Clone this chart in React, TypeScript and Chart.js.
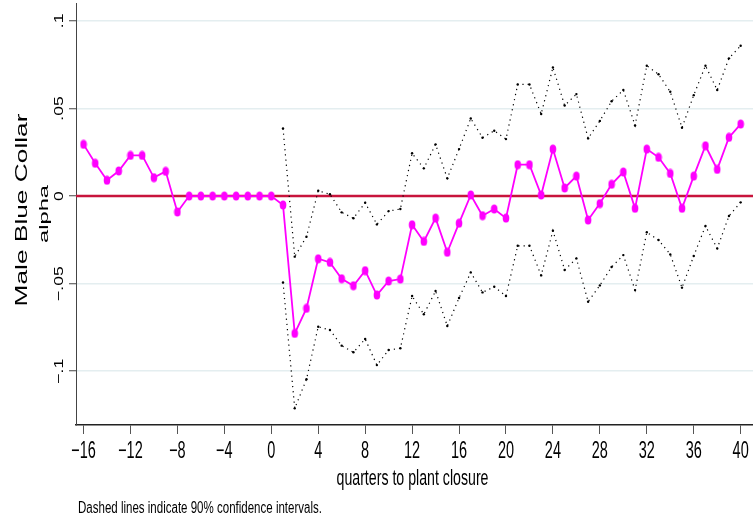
import React, { useEffect, useRef } from "react";
import { Chart, registerables } from "chart.js";

Chart.register(...registerables);

// ---- data ----
const quarters = [
  -16, -15, -14, -13, -12, -11, -10, -9, -8, -7, -6, -5, -4, -3, -2, -1, 0,
  1, 2, 3, 4, 5, 6, 7, 8, 9, 10, 11, 12, 13, 14, 15, 16, 17, 18, 19, 20,
  21, 22, 23, 24, 25, 26, 27, 28, 29, 30, 31, 32, 33, 34, 35, 36, 37, 38, 39, 40,
];
const alpha = [
  0.0295, 0.0187, 0.009, 0.0143, 0.0232, 0.0232, 0.0105, 0.0141, -0.0091,
  0, 0, 0, 0, 0, 0, 0, 0,
  -0.0051, -0.0784, -0.0641, -0.0358, -0.0379, -0.0472, -0.0512, -0.0426, -0.0565, -0.0485,
  -0.0474, -0.0164, -0.0259, -0.0126, -0.0321, -0.0155, 0.0006, -0.0112, -0.0074, -0.0126,
  0.0179, 0.0179, 0.0006, 0.0268, 0.0046, 0.0114, -0.0137, -0.0043, 0.0067, 0.0137,
  -0.007, 0.0268, 0.0221, 0.0129, -0.007, 0.0114, 0.0287, 0.0152, 0.0335, 0.0411,
];
const ciQuarters = [
  1, 2, 3, 4, 5, 6, 7, 8, 9, 10, 11, 12, 13, 14, 15, 16, 17, 18, 19, 20,
  21, 22, 23, 24, 25, 26, 27, 28, 29, 30, 31, 32, 33, 34, 35, 36, 37, 38, 39, 40,
];
const upperCI = [
  0.0386, -0.0346, -0.0232, 0.003, 0.001, -0.0093, -0.0127, -0.0038, -0.0162, -0.0086,
  -0.0074, 0.0244, 0.0158, 0.0295, 0.0101, 0.0268, 0.0443, 0.0333, 0.0373, 0.0325,
  0.0637, 0.0637, 0.0468, 0.0734, 0.0517, 0.0582, 0.0329, 0.0429, 0.0541, 0.0605,
  0.0403, 0.0744, 0.0695, 0.0595, 0.039, 0.0576, 0.0744, 0.0605, 0.0786, 0.0858,
];
const lowerCI = [
  -0.0493, -0.1212, -0.1046, -0.0746, -0.0765, -0.0854, -0.0892, -0.0816, -0.0965, -0.0879,
  -0.0869, -0.0571, -0.0675, -0.0542, -0.0742, -0.0582, -0.0436, -0.055, -0.0518, -0.0571,
  -0.0284, -0.0284, -0.0453, -0.0198, -0.0422, -0.0356, -0.0603, -0.051, -0.0405, -0.0337,
  -0.0537, -0.0207, -0.0251, -0.0333, -0.0523, -0.0342, -0.0171, -0.0299, -0.0114, -0.0036,
];
const zeroLineY = [0, 0];

const xTickValues = [-16, -12, -8, -4, 0, 4, 8, 12, 16, 20, 24, 28, 32, 36, 40];
const xTickLabels = ["\u221216", "\u221212", "\u22128", "\u22124", "0", "4", "8", "12", "16", "20", "24", "28", "32", "36", "40"];
const yTickValues = [0.1, 0.05, 0, -0.05, -0.1];
const yTickLabels = [".1", ".05", "0", "\u2212.05", "\u2212.1"];

const X_MIN = -16.64;
const X_MAX = 41.05;
const Y_MIN = -0.1307;
const Y_MAX = 0.1102;

const yTitle1 = "Male Blue Collar";
const yTitle2 = "alpha";
const xTitle = "quarters to plant closure";
const footnote = "Dashed lines indicate 90% confidence intervals.";

const FONT = '"Liberation Sans", Arial, sans-serif';

function drawText(
  ctx: CanvasRenderingContext2D,
  text: string,
  x: number,
  y: number,
  fontPx: number,
  opts: { rot?: boolean; sx?: number; width?: number; align?: CanvasTextAlign }
) {
  ctx.save();
  ctx.translate(x, y);
  if (opts.rot) ctx.rotate(-Math.PI / 2);
  ctx.font = `${fontPx}px ${FONT}`;
  const w = ctx.measureText(text).width;
  const s = opts.width ? opts.width / w : opts.sx ?? 1;
  ctx.scale(s, 1);
  ctx.textAlign = opts.align ?? "center";
  ctx.textBaseline = "alphabetic";
  ctx.fillStyle = "#000";
  ctx.fillText(text, 0, 0);
  ctx.restore();
}

const textPlugin = {
  id: "stataText",
  afterDraw(chart: any) {
    const ctx: CanvasRenderingContext2D = chart.ctx;
    const xs = chart.scales.x;
    const ys = chart.scales.y;
    const area = chart.chartArea;
    // y tick labels (rotated)
    yTickValues.forEach((v, i) => {
      const py = ys.getPixelForValue(v);
      drawText(ctx, yTickLabels[i], 63, py, 13, { rot: true, sx: 1.35 });
    });
    // y titles
    const cy = (area.top + area.bottom) / 2;
    drawText(ctx, yTitle1, 26.7, cy - 4, 16.5, { rot: true, width: 193 });
    drawText(ctx, yTitle2, 47.5, cy, 13, { rot: true, width: 58 });
    // x tick labels
    xTickValues.forEach((v, i) => {
      const px = xs.getPixelForValue(v);
      drawText(ctx, xTickLabels[i], px, 458, 23, { sx: 0.63 });
    });
    // x title
    drawText(ctx, xTitle, (area.left + area.right) / 2 - 2, 485, 22, { width: 152 });
    // footnote
    drawText(ctx, footnote, 78, 513, 16, { width: 244, align: "left" });
  },
};

function makeEllipse(): HTMLCanvasElement {
  const c = document.createElement("canvas");
  c.width = 8;
  c.height = 10;
  const g = c.getContext("2d")!;
  g.fillStyle = "#ff00ff";
  g.beginPath();
  g.ellipse(4, 5, 3.3, 4.6, 0, 0, Math.PI * 2);
  g.fill();
  return c;
}

export default function App() {
  const ref = useRef<HTMLCanvasElement | null>(null);
  useEffect(() => {
    if (!ref.current) return;
    const marker = makeEllipse();
    const chart = new Chart(ref.current, {
      type: "line",
      data: {
        datasets: [
          {
            label: "alpha",
            data: quarters.map((q, i) => ({ x: q, y: alpha[i] })),
            borderColor: "#ff00ff",
            backgroundColor: "#ff00ff",
            borderWidth: 1.8,
            pointStyle: marker as any,
            pointRadius: 4,
            tension: 0,
            order: 0,
          },
          {
            label: "upper",
            data: ciQuarters.map((q, i) => ({ x: q, y: upperCI[i] })),
            borderColor: "#000",
            backgroundColor: "#000",
            borderWidth: 1.2,
            borderDash: [1.2, 4],
            pointRadius: 1.2,
            pointBorderWidth: 0,
            tension: 0,
            order: 1,
          },
          {
            label: "lower",
            data: ciQuarters.map((q, i) => ({ x: q, y: lowerCI[i] })),
            borderColor: "#000",
            backgroundColor: "#000",
            borderWidth: 1.2,
            borderDash: [1.2, 4],
            pointRadius: 1.2,
            pointBorderWidth: 0,
            tension: 0,
            order: 1,
          },
          {
            label: "zero",
            data: [
              { x: X_MIN, y: zeroLineY[0] },
              { x: X_MAX, y: zeroLineY[1] },
            ],
            borderColor: "#c8143c",
            borderWidth: 2.5,
            pointRadius: 0,
            order: 3,
          },
        ],
      },
      options: {
        animation: false,
        responsive: false,
        maintainAspectRatio: false,
        layout: { autoPadding: false, padding: { top: 3, right: 0, left: 0, bottom: 0 } },
        plugins: {
          legend: { display: false },
          tooltip: { enabled: false },
          title: { display: false },
        },
        scales: {
          x: {
            type: "linear",
            min: X_MIN,
            max: X_MAX,
            afterBuildTicks: (s: any) => {
              s.ticks = xTickValues.map((v) => ({ value: v }));
            },
            afterFit: (s: any) => {
              s.height = 100;
            },
            ticks: { display: false },
            grid: {
              drawOnChartArea: false,
              drawTicks: true,
              tickLength: 9,
              tickColor: "#555",
              tickWidth: 1,
            },
            border: { display: true, color: "#222", width: 1.5 },
          },
          y: {
            type: "linear",
            min: Y_MIN,
            max: Y_MAX,
            afterBuildTicks: (s: any) => {
              s.ticks = yTickValues.map((v) => ({ value: v }));
            },
            afterFit: (s: any) => {
              s.width = 76;
            },
            ticks: { display: false },
            grid: {
              color: "#e4eef0",
              lineWidth: 1.5,
              drawTicks: true,
              tickLength: 7,
              tickColor: "#444",
              tickWidth: 1,
            },
            border: { display: true, color: "#444", width: 1 },
          },
        },
      },
      plugins: [textPlugin],
    });
    return () => chart.destroy();
  }, []);
  return (
    <div style={{ position: "fixed", left: 0, top: 0, width: 753, height: 525, background: "#fff" }}>
      <canvas ref={ref} width={753} height={525} style={{ width: 753, height: 525, display: "block" }} />
    </div>
  );
}
